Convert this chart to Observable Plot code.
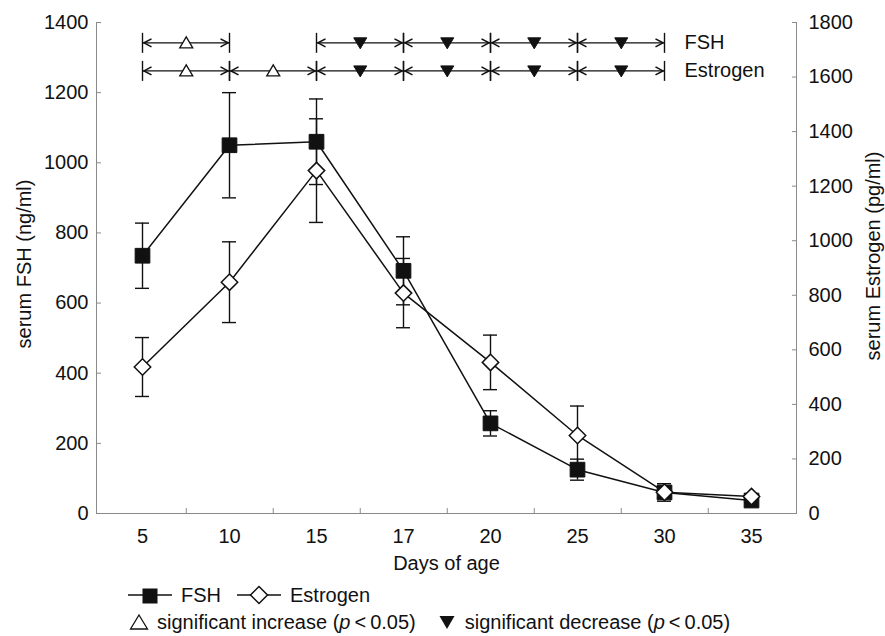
<!DOCTYPE html>
<html><head><meta charset="utf-8">
<script src="https://cdn.jsdelivr.net/npm/d3@7"></script>
<script src="https://cdn.jsdelivr.net/npm/@observablehq/plot@0.6"></script>
<style>
body{margin:0;background:#fff;font-family:"Liberation Sans",Arial,sans-serif;color:#111}
#legend{position:relative;height:60px;font-size:20px;width:885px}
.row{position:absolute;left:128px;display:flex;align-items:center;white-space:nowrap;height:26px}
.row svg{display:block}
</style></head><body>
<div id="chart"></div>
<div id="legend"></div>
<script>
// ---- data ----
const days = ["5","10","15","17","20","25","30","35"];
const fsh = [735, 1050, 1060, 692, 257, 125, 60, 37];          // ng/ml (left axis)
const fshErr = [93, 150, 122, 97, 36, 30, 25, 8];
const estrogen = [537, 848, 1257, 808, 554, 286, 78, 62];      // pg/ml (right axis)
const estrogenErr = [108, 148, 190, 127, 100, 108, 20, 10];
const fshTicks = [0, 200, 400, 600, 800, 1000, 1200, 1400];
const estrogenTicks = [0, 200, 400, 600, 800, 1000, 1200, 1400, 1600, 1800];
// significance segments (from day, to day, direction)
const fshSigFrom = ["5", "15", "17", "20", "25"];
const fshSigTo = ["10", "17", "20", "25", "30"];
const fshSigType = ["up", "down", "down", "down", "down"];
const estSigFrom = ["5", "10", "15", "17", "20", "25"];
const estSigTo = ["10", "15", "17", "20", "25", "30"];
const estSigType = ["up", "up", "down", "down", "down", "down"];
const seriesNames = ["FSH", "Estrogen"];
const sigLabels = ["significant increase", "significant decrease"];

// ---- derived tables ----
const k = 1400 / 1800; // estrogen -> left axis units
const fshData = days.map((d, i) => ({day: d, v: fsh[i], lo: fsh[i] - fshErr[i], hi: fsh[i] + fshErr[i]}));
const estData = days.map((d, i) => ({day: d, v: estrogen[i] * k, lo: (estrogen[i] - estrogenErr[i]) * k, hi: (estrogen[i] + estrogenErr[i]) * k}));
const rowY = {FSH: 1342, Estrogen: 1262};
const segs = [
  ...fshSigFrom.map((f, i) => ({row: "FSH", from: f, to: fshSigTo[i], type: fshSigType[i], y: rowY.FSH})),
  ...estSigFrom.map((f, i) => ({row: "Estrogen", from: f, to: estSigTo[i], type: estSigType[i], y: rowY.Estrogen}))
];
const rowLabels = seriesNames.map(n => ({text: n, y: rowY[n], x: days[6]}));

// custom symbols
const barSym = {draw(c) { c.moveTo(0, -10); c.lineTo(0, 10); }};
const headL = {draw(c) { c.moveTo(9, -4); c.lineTo(1.5, 0); c.lineTo(9, 4); }};
const headR = {draw(c) { c.moveTo(-9, -4); c.lineTo(-1.5, 0); c.lineTo(-9, 4); }};
const triUp = {draw(c) { c.moveTo(0, -6); c.lineTo(6.5, 5); c.lineTo(-6.5, 5); c.closePath(); }};
const triDown = {draw(c) { c.moveTo(0, 6); c.lineTo(6.5, -5); c.lineTo(-6.5, -5); c.closePath(); }};

const W = 885, H = 576, mL = 96, mR = 89, mT = 22, mB = 63;
const step = (W - mL - mR) / days.length;
const ink = "#111", axisGray = "#8a8a8a";

const chart = Plot.plot({
  width: W, height: H,
  marginLeft: mL, marginRight: mR, marginTop: mT, marginBottom: mB,
  style: {fontSize: "20px", fontFamily: "'Liberation Sans', Arial, sans-serif", color: ink, background: "#fff"},
  x: {type: "point", domain: days, padding: 0.5, axis: null},
  y: {domain: [0, 1400], axis: null},
  marks: [
    Plot.frame({anchor: "left", stroke: axisGray}),
    Plot.frame({anchor: "right", stroke: axisGray}),
    Plot.frame({anchor: "bottom", stroke: axisGray}),
    Plot.ruleX(days.slice(0, -1), {x: d => d, dx: step / 2, y1: 0, y2: 14, stroke: axisGray}),
    Plot.axisY(fshTicks, {anchor: "left", tickSize: -5, tickPadding: 13, stroke: axisGray, fill: ink, label: null,
      tickFormat: d => String(d)}),
    Plot.axisY(estrogenTicks.map(d => d * k), {anchor: "right", tickSize: -5, tickPadding: 17, stroke: axisGray, fill: ink, label: null,
      tickFormat: d => String(Math.round(d / k))}),
    Plot.axisX({tickSize: 0, tickPadding: 15, fill: ink, label: null}),
    Plot.text(["serum FSH (ng/ml)"], {frameAnchor: "left", dx: -72, dy: -4, rotate: -90, textAnchor: "middle", text: d => d, fill: ink}),
    Plot.text(["serum Estrogen (pg/ml)"], {frameAnchor: "right", dx: 77, dy: -12, rotate: -90, textAnchor: "middle", text: d => d, fill: ink}),
    Plot.text(["Days of age"], {frameAnchor: "bottom", dy: 56, textAnchor: "middle", text: d => d, fill: ink}),
    // error bars
    Plot.ruleX(fshData, {x: "day", y1: "lo", y2: "hi", stroke: ink, strokeWidth: 1.4}),
    Plot.ruleY(fshData, {x1: "day", x2: "day", y: "hi", insetLeft: -7, insetRight: -7, stroke: ink, strokeWidth: 1.4}),
    Plot.ruleY(fshData, {x1: "day", x2: "day", y: "lo", insetLeft: -7, insetRight: -7, stroke: ink, strokeWidth: 1.4}),
    Plot.ruleX(estData, {x: "day", y1: "lo", y2: "hi", stroke: ink, strokeWidth: 1.4}),
    Plot.ruleY(estData, {x1: "day", x2: "day", y: "hi", insetLeft: -7, insetRight: -7, stroke: ink, strokeWidth: 1.4}),
    Plot.ruleY(estData, {x1: "day", x2: "day", y: "lo", insetLeft: -7, insetRight: -7, stroke: ink, strokeWidth: 1.4}),
    // lines
    Plot.line(fshData, {x: "day", y: "v", stroke: ink, strokeWidth: 1.5}),
    Plot.line(estData, {x: "day", y: "v", stroke: ink, strokeWidth: 1.5}),
    // markers
    Plot.dot(fshData, {x: "day", y: "v", symbol: "square", r: 8.3, fill: ink, stroke: ink, strokeWidth: 1}),
    Plot.dot(estData, {x: "day", y: "v", symbol: "diamond2", r: 7.4, fill: "#fff", stroke: ink, strokeWidth: 1.5}),
    // significance annotations
    Plot.ruleY(segs, {x1: "from", x2: "to", y: "y", stroke: ink, strokeWidth: 1.4}),
    Plot.dot(segs, {x: "from", y: "y", symbol: barSym, fill: "none", stroke: ink, strokeWidth: 1.4}),
    Plot.dot(segs, {x: "to", y: "y", symbol: barSym, fill: "none", stroke: ink, strokeWidth: 1.4}),
    Plot.dot(segs, {x: "from", y: "y", symbol: headL, fill: "none", stroke: ink, strokeWidth: 1.6}),
    Plot.dot(segs, {x: "to", y: "y", symbol: headR, fill: "none", stroke: ink, strokeWidth: 1.6}),
    Plot.dot(segs.filter(s => s.type === "up"), {x: "from", y: "y", dx: step / 2, symbol: triUp, fill: "#fff", stroke: ink, strokeWidth: 1.3}),
    Plot.dot(segs.filter(s => s.type === "down"), {x: "from", y: "y", dx: step / 2, symbol: triDown, fill: ink, stroke: ink, strokeWidth: 1}),
    Plot.text(rowLabels, {x: "x", y: "y", text: "text", dx: 20, textAnchor: "start", fill: ink})
  ]
});
document.getElementById("chart").appendChild(chart);

// ---- legend ----
const legend = document.getElementById("legend");
const row1 = document.createElement("div");
row1.className = "row"; row1.style.top = "6px";
row1.innerHTML =
  `<svg width="44" height="20"><line x1="0" y1="10" x2="44" y2="10" stroke="${ink}" stroke-width="1.5"/><rect x="14.5" y="3.5" width="15" height="15" fill="${ink}"/></svg>` +
  `<span style="margin-left:9px">${seriesNames[0]}</span>` +
  `<svg width="44" height="20" style="margin-left:16px"><line x1="0" y1="10" x2="44" y2="10" stroke="${ink}" stroke-width="1.5"/><path d="M22,1.5L30.5,10L22,18.5L13.5,10Z" fill="#fff" stroke="${ink}" stroke-width="1.5"/></svg>` +
  `<span style="margin-left:9px">${seriesNames[1]}</span>`;
legend.appendChild(row1);
const row2 = document.createElement("div");
row2.className = "row"; row2.style.top = "33px";
row2.innerHTML =
  `<svg width="22" height="20"><path d="M11,3L19.5,17H2.5Z" fill="#fff" stroke="${ink}" stroke-width="1.3"/></svg>` +
  `<span style="margin-left:7px">${sigLabels[0]} (<i>p</i>&thinsp;&lt;&thinsp;0.05)</span>` +
  `<svg width="18" height="20" style="margin-left:22px"><path d="M1.5,4H16.5L9,17Z" fill="${ink}"/></svg>` +
  `<span style="margin-left:9px">${sigLabels[1]} (<i>p</i>&thinsp;&lt;&thinsp;0.05)</span>`;
legend.appendChild(row2);
</script>
</body></html>
